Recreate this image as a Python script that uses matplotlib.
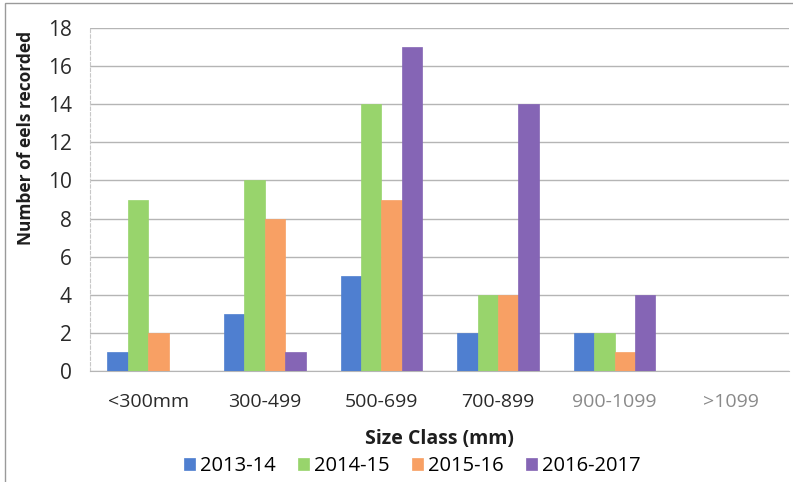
import matplotlib.pyplot as plt
import numpy as np
from matplotlib.patches import Rectangle

plt.rcParams["font.family"] = ["Open Sans", "DejaVu Sans"]

size_classes = ["<300mm", "300-499", "500-699", "700-899", "900-1099", ">1099"]
seasons = ["2013-14", "2014-15", "2015-16", "2016-2017"]
counts_2013 = [1, 3, 5, 2, 2, 0]
counts_2014 = [9, 10, 14, 4, 2, 0]
counts_2015 = [2, 8, 9, 4, 1, 0]
counts_2016 = [0, 1, 17, 14, 4, 0]
colors = ["#4f7fd0", "#98d46c", "#f8a064", "#8565b5"]
label_colors = ["#2a2a2a", "#2a2a2a", "#2a2a2a", "#2a2a2a", "#8a8a8a", "#8a8a8a"]

fig = plt.figure(figsize=(7.93, 4.82), dpi=100)
ax = fig.add_axes([0.1135, 0.230, 0.882, 0.712])

x = np.arange(len(size_classes))
width = 0.175
series = [counts_2013, counts_2014, counts_2015, counts_2016]
for i, (vals, name, col) in enumerate(zip(series, seasons, colors)):
    ax.bar(x + (i - 1.5) * width, vals, width, color=col, label=name,
           edgecolor=col, linewidth=0.5, zorder=3)

ax.set_xlim(-0.5, len(size_classes) - 0.5)
ax.set_ylim(0, 18)
ax.set_yticks(range(0, 19, 2))
ax.grid(axis="y", color="#b5b5b5", linewidth=1.0, zorder=0)
ax.set_xticks(x)
ax.set_xticklabels(size_classes, fontsize=14)
for lbl, c in zip(ax.get_xticklabels(), label_colors):
    lbl.set_color(c)
ax.tick_params(axis="y", labelsize=15, length=0, pad=13, colors="#2a2a2a")
ax.tick_params(axis="x", length=0, pad=16)

for side in ["top", "right"]:
    ax.spines[side].set_visible(False)
ax.spines["left"].set_color("#c8c8c8")
ax.spines["left"].set_linestyle((0, (3, 2)))
ax.spines["bottom"].set_color("#b5b5b5")

ax.set_ylabel("Number of eels recorded", fontsize=12.5, fontweight="bold",
              color="#1e1e1e")
ax.yaxis.set_label_coords(-0.078, 0.68)
ax.set_xlabel("Size Class (mm)", fontsize=14, fontweight="bold",
              color="#1e1e1e", labelpad=13)

fig.legend(loc="lower center", bbox_to_anchor=(0.52, -0.025), ncol=4,
           frameon=False, fontsize=14.5, handlelength=0.55, handleheight=0.55,
           handletextpad=0.25, columnspacing=1.1)

# thin frame around the chart area
fig.patches.append(Rectangle((0.006, -0.01), 1.1, 1.004, transform=fig.transFigure,
                             fill=False, edgecolor="#9a9a9a", linewidth=1.0))

fig.savefig("out.png", dpi=100)
